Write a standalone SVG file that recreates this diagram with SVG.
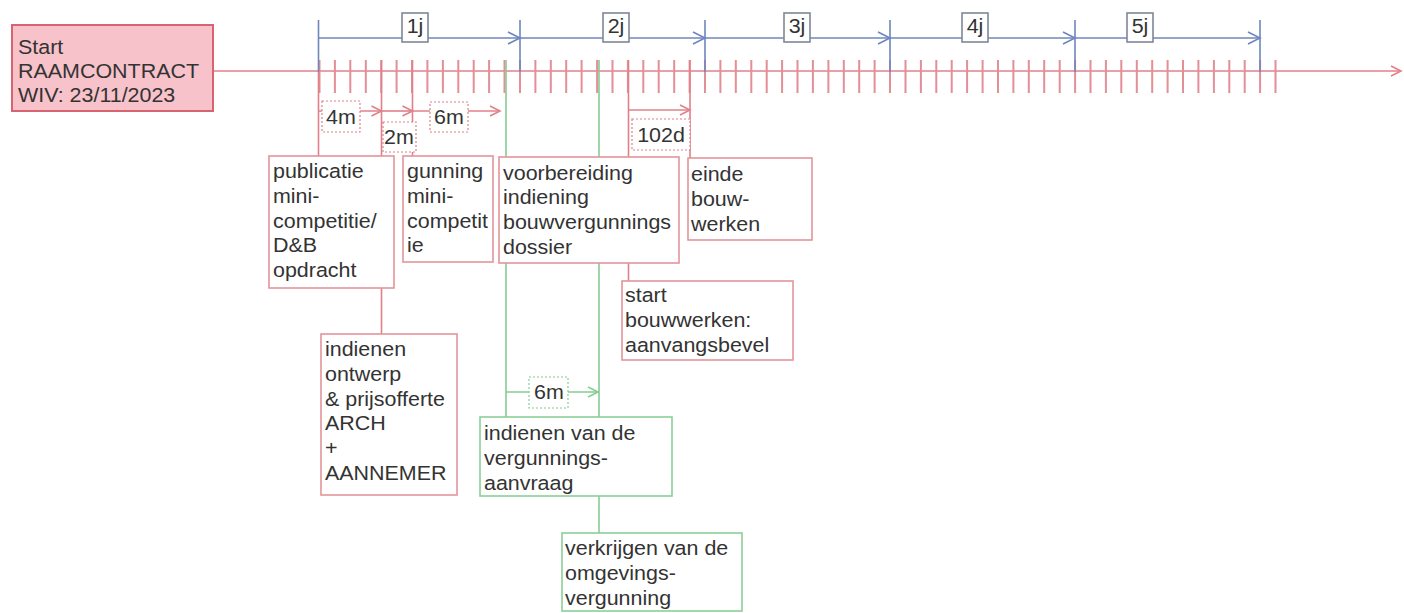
<svg xmlns="http://www.w3.org/2000/svg" width="1404" height="613" viewBox="0 0 1404 613">
<style>
.t{font-family:"Liberation Sans",Arial,sans-serif;font-size:19.5px;fill:#333}
.nr{fill:#fff;stroke:#e3949b;stroke-width:1.6}
.ng{fill:#fff;stroke:#8ccf98;stroke-width:1.6}
.lr{stroke:#e2808a;stroke-width:1.6;fill:none}
.lg{stroke:#86cc93;stroke-width:1.6;fill:none}
.lb{stroke:#6f86bd;stroke-width:1.6;fill:none}
.yb{fill:#fff;stroke:#7f8796;stroke-width:1.6}
.dr{fill:#fff;stroke:#e2808a;stroke-width:1.2;stroke-dasharray:2 2}
.dg{fill:#fff;stroke:#86cc93;stroke-width:1.2;stroke-dasharray:2 2}
.tick{stroke:#e48e96;stroke-width:2;fill:none}
</style>
<defs>
<marker id="ab" viewBox="0 0 12 12" refX="12" refY="6" markerWidth="12" markerHeight="12" markerUnits="userSpaceOnUse" orient="auto" overflow="visible"><path d="M0,0 L12,6 L0,12" fill="none" stroke="#6f86bd" stroke-width="1.6"/></marker>
<marker id="ar" viewBox="0 0 10 10" refX="10" refY="5" markerWidth="10" markerHeight="10" markerUnits="userSpaceOnUse" orient="auto" overflow="visible"><path d="M0,0 L10,5 L0,10" fill="none" stroke="#e2808a" stroke-width="1.6"/></marker>
<marker id="ag" viewBox="0 0 10 10" refX="10" refY="5" markerWidth="10" markerHeight="10" markerUnits="userSpaceOnUse" orient="auto" overflow="visible"><path d="M0,0 L10,5 L0,10" fill="none" stroke="#86cc93" stroke-width="1.6"/></marker>
</defs>
<rect width="1404" height="613" fill="#fff"/>

<g id="timeline">
<line class="lr" x1="213" y1="71" x2="1401" y2="71" marker-end="url(#ar)"/>
<path class="tick" d="M319.5,60V93M334.9,60V93M350.3,60V93M365.8,60V93M381.2,60V93M396.6,60V93M412,60V93M427.4,60V93M442.9,60V93M458.3,60V93M473.7,60V93M489.1,60V93M504.5,60V93M520,60V93M535.4,60V93M550.8,60V93M566.2,60V93M581.6,60V93M597.1,60V93M612.5,60V93M627.9,60V93M643.3,60V93M658.7,60V93M674.2,60V93M689.6,60V93M705,60V93M720.4,60V93M735.8,60V93M751.3,60V93M766.7,60V93M782.1,60V93M797.5,60V93M812.9,60V93M828.4,60V93M843.8,60V93M859.2,60V93M874.6,60V93M890,60V93M905.5,60V93M920.9,60V93M936.3,60V93M951.7,60V93M967.1,60V93M982.6,60V93M998,60V93M1013.4,60V93M1028.8,60V93M1044.2,60V93M1059.7,60V93M1075.1,60V93M1090.5,60V93M1105.9,60V93M1121.3,60V93M1136.8,60V93M1152.2,60V93M1167.6,60V93M1183,60V93M1198.4,60V93M1213.9,60V93M1229.3,60V93M1244.7,60V93M1260.1,60V93M1275.5,60V93"/>
</g>

<g id="connectors">
<!-- year marks -->
<path class="lb" d="M318.5,20V72M520,20V72M705,20V72M890,20V72M1075,20V72M1260,20V72"/>
<line class="lb" x1="318.5" y1="38" x2="520" y2="38" marker-end="url(#ab)"/>
<line class="lb" x1="520" y1="38" x2="705" y2="38" marker-end="url(#ab)"/>
<line class="lb" x1="705" y1="38" x2="890" y2="38" marker-end="url(#ab)"/>
<line class="lb" x1="890" y1="38" x2="1075" y2="38" marker-end="url(#ab)"/>
<line class="lb" x1="1075" y1="38" x2="1260" y2="38" marker-end="url(#ab)"/>
<!-- red verticals -->
<path class="lr" d="M318.5,72V156M381.5,60V156M381.5,288V334M412.5,60V156M628.5,60V157M628.5,263V281M690,60V158"/>
<!-- green verticals -->
<path class="lg" d="M506,60V157M506,263V417M599,60V157M599,263V417M599,496V533"/>
<!-- duration arrows -->
<line class="lr" x1="318.5" y1="111" x2="381.5" y2="111" marker-end="url(#ar)"/>
<line class="lr" x1="381.5" y1="111" x2="412.5" y2="111" marker-end="url(#ar)"/>
<line class="lr" x1="412.5" y1="111" x2="500" y2="111" marker-end="url(#ar)"/>
<line class="lr" x1="628.5" y1="110" x2="690" y2="110" marker-end="url(#ar)"/>
<line class="lg" x1="506" y1="392" x2="598" y2="392" marker-end="url(#ag)"/>
</g>

<g id="year-labels">
<g id="y1"><rect class="yb" x="402" y="13" width="26" height="29"/><text class="t" text-anchor="middle" transform="translate(415,33) scale(1.1,1)">1j</text></g>
<g id="y2"><rect class="yb" x="603" y="13" width="26" height="29"/><text class="t" text-anchor="middle" transform="translate(616,33) scale(1.1,1)">2j</text></g>
<g id="y3"><rect class="yb" x="784" y="13" width="26" height="29"/><text class="t" text-anchor="middle" transform="translate(797,33) scale(1.1,1)">3j</text></g>
<g id="y4"><rect class="yb" x="962" y="13" width="26" height="29"/><text class="t" text-anchor="middle" transform="translate(975,33) scale(1.1,1)">4j</text></g>
<g id="y5"><rect class="yb" x="1127" y="13" width="26" height="29"/><text class="t" text-anchor="middle" transform="translate(1140,33) scale(1.1,1)">5j</text></g>
</g>

<g id="duration-labels">
<g id="d4m"><rect class="dr" x="322" y="101" width="38" height="31"/><text class="t" text-anchor="middle" transform="translate(341,124) scale(1.1,1)">4m</text></g>
<g id="d2m"><rect class="dr" x="383" y="122" width="33" height="30"/><text class="t" text-anchor="middle" transform="translate(399,144) scale(1.1,1)">2m</text></g>
<g id="d6m"><rect class="dr" x="430" y="102" width="38" height="30"/><text class="t" text-anchor="middle" transform="translate(449,124) scale(1.1,1)">6m</text></g>
<g id="d102d"><rect class="dr" x="632" y="119" width="58" height="31"/><text class="t" text-anchor="middle" transform="translate(661,142) scale(1.1,1)">102d</text></g>
<g id="d6mg"><rect class="dg" x="529" y="377" width="39" height="31"/><text class="t" text-anchor="middle" transform="translate(549,399) scale(1.1,1)">6m</text></g>
</g>

<g id="start">
<rect x="12" y="25" width="201" height="86" fill="#f7c2ca" stroke="#d8646f" stroke-width="2"/>
<text class="t" transform="translate(18,53.5) scale(1.1,1)"><tspan x="0" y="0">Start</tspan><tspan x="0" y="24.5">RAAMCONTRACT</tspan><tspan x="0" y="49">WIV: 23/11/2023</tspan></text>
</g>

<g id="publicatie">
<rect class="nr" x="269" y="156" width="125" height="132"/>
<text class="t" transform="translate(273,178) scale(1.1,1)"><tspan x="0" y="0">publicatie</tspan><tspan x="0" y="24.8">mini-</tspan><tspan x="0" y="49.6">competitie/</tspan><tspan x="0" y="74.4">D&amp;B</tspan><tspan x="0" y="99.2">opdracht</tspan></text>
</g>

<g id="gunning">
<rect class="nr" x="403" y="156" width="90" height="106"/>
<text class="t" transform="translate(407,178) scale(1.1,1)"><tspan x="0" y="0">gunning</tspan><tspan x="0" y="24.8">mini-</tspan><tspan x="0" y="49.6">competit</tspan><tspan x="0" y="74.4">ie</tspan></text>
</g>

<g id="voorbereiding">
<rect class="nr" x="499" y="157" width="180" height="106"/>
<text class="t" transform="translate(503,179.5) scale(1.1,1)"><tspan x="0" y="0">voorbereiding</tspan><tspan x="0" y="24.8">indiening</tspan><tspan x="0" y="49.6">bouwvergunnings</tspan><tspan x="0" y="74.4">dossier</tspan></text>
</g>

<g id="einde">
<rect class="nr" x="688" y="158" width="124" height="82"/>
<text class="t" transform="translate(691,181) scale(1.1,1)"><tspan x="0" y="0">einde</tspan><tspan x="0" y="24.8">bouw-</tspan><tspan x="0" y="49.6">werken</tspan></text>
</g>

<g id="startbouw">
<rect class="nr" x="622" y="281" width="171" height="79"/>
<text class="t" transform="translate(625,302) scale(1.1,1)"><tspan x="0" y="0">start</tspan><tspan x="0" y="24.8">bouwwerken:</tspan><tspan x="0" y="49.6">aanvangsbevel</tspan></text>
</g>

<g id="ontwerp">
<rect class="nr" x="321" y="334" width="136" height="161"/>
<text class="t" transform="translate(325,356) scale(1.1,1)"><tspan x="0" y="0">indienen</tspan><tspan x="0" y="24.8">ontwerp</tspan><tspan x="0" y="49.6">&amp; prijsofferte</tspan><tspan x="0" y="74.4">ARCH</tspan><tspan x="0" y="99.2">+</tspan><tspan x="0" y="124">AANNEMER</tspan></text>
</g>

<g id="aanvraag">
<rect class="ng" x="480" y="417" width="192" height="79"/>
<text class="t" transform="translate(484,440) scale(1.1,1)"><tspan x="0" y="0">indienen van de</tspan><tspan x="0" y="24.8">vergunnings-</tspan><tspan x="0" y="49.6">aanvraag</tspan></text>
</g>

<g id="verkrijgen">
<rect class="ng" x="562" y="533" width="180" height="78"/>
<text class="t" transform="translate(565,555) scale(1.1,1)"><tspan x="0" y="0">verkrijgen van de</tspan><tspan x="0" y="24.8">omgevings-</tspan><tspan x="0" y="49.6">vergunning</tspan></text>
</g>
</svg>
